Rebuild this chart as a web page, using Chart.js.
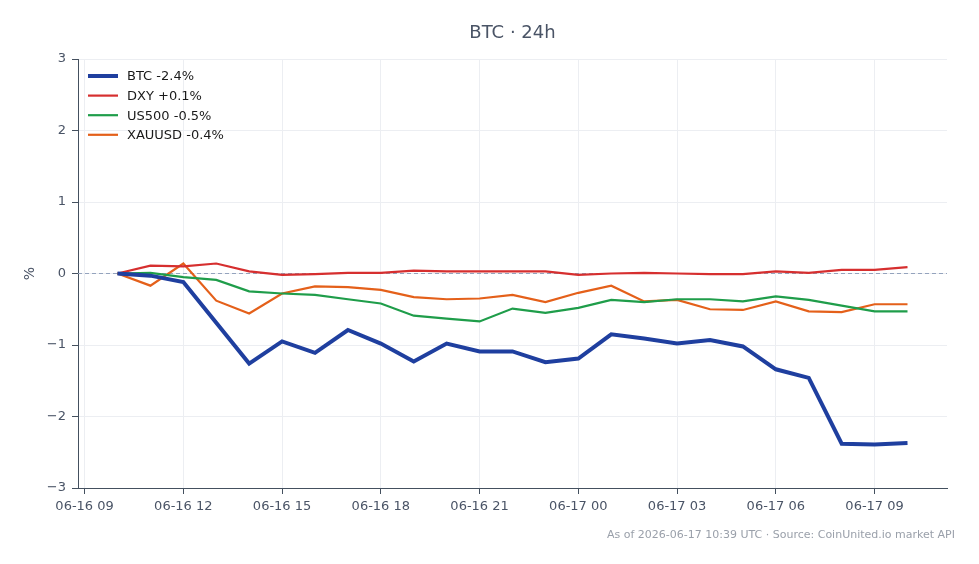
<!DOCTYPE html>
<html>
<head>
<meta charset="utf-8">
<script src="https://cdn.jsdelivr.net/npm/chart.js@4.4.1/dist/chart.umd.min.js"></script>
<style>
html,body{margin:0;padding:0;background:#fff;}
#wrap{width:979px;height:564px;position:relative;}
</style>
</head>
<body>
<div id="wrap"><canvas id="c" width="979" height="564"></canvas></div>
<script>
// Hours since 06-16 00:00 UTC
const hours = [10,11,12,13,14,15,16,17,18,19,20,21,22,23,24,25,26,27,28,29,30,31,32,33,34];
const btc    = [0,-0.03,-0.12,-0.69,-1.26,-0.95,-1.11,-0.79,-0.98,-1.23,-0.98,-1.09,-1.09,-1.24,-1.19,-0.85,-0.91,-0.98,-0.93,-1.02,-1.34,-1.46,-2.38,-2.39,-2.37];
const dxy    = [0,0.11,0.10,0.14,0.03,-0.02,-0.01,0.01,0.01,0.04,0.03,0.03,0.03,0.03,-0.02,0.00,0.01,0.00,-0.01,-0.01,0.03,0.01,0.05,0.05,0.09];
const us500  = [0,0.01,-0.05,-0.09,-0.25,-0.28,-0.30,-0.36,-0.42,-0.59,-0.63,-0.67,-0.49,-0.55,-0.48,-0.37,-0.40,-0.36,-0.36,-0.39,-0.32,-0.37,-0.45,-0.53,-0.53];
const xauusd = [0,-0.17,0.14,-0.38,-0.56,-0.28,-0.18,-0.19,-0.23,-0.33,-0.36,-0.35,-0.30,-0.40,-0.27,-0.17,-0.39,-0.37,-0.50,-0.51,-0.39,-0.53,-0.54,-0.43,-0.43];
const seriesLabels = ['BTC -2.4%','DXY +0.1%','US500 -0.5%','XAUUSD -0.4%'];
const xTickValues = [9,12,15,18,21,24,27,30,33];
const xTickLabels = ['06-16 09','06-16 12','06-16 15','06-16 18','06-16 21','06-17 00','06-17 03','06-17 06','06-17 09'];
const yTickValues = [-3,-2,-1,0,1,2,3];
const yTickLabels = ['\u22123','\u22122','\u22121','0','1','2','3'];
const titleText = 'BTC \u00b7 24h';
const footerText = 'As of 2026-06-17 10:39 UTC \u00b7 Source: CoinUnited.io market API';

const colors = ['#1f3f9f','#d62f2f','#1f9d4a','#e4601a'];
const widths = [4,2.2,2.2,2.2];
const FONT = '"DejaVu Sans", sans-serif';
const series = [btc,dxy,us500,xauusd];

const datasets = series.map((s,i)=>({
  label: seriesLabels[i],
  data: s.map((v,j)=>({x:hours[j], y:v})),
  borderColor: colors[i],
  backgroundColor: colors[i],
  borderWidth: widths[i],
  pointRadius: 0,
  tension: 0,
  fill: false
}));

const decor = {
  id:'decor',
  beforeDatasetsDraw(chart){
    const {ctx, chartArea:a, scales:{y}} = chart;
    const py = y.getPixelForValue(0);
    ctx.save();
    ctx.strokeStyle = '#94a3bd';
    ctx.lineWidth = 1;
    ctx.setLineDash([4,3]);
    ctx.beginPath(); ctx.moveTo(a.left, py); ctx.lineTo(a.right, py); ctx.stroke();
    ctx.restore();
  },
  afterDraw(chart){
    const {ctx, chartArea:a} = chart;
    ctx.save();
    // title
    ctx.fillStyle = '#4a5466';
    ctx.font = '18px ' + FONT;
    ctx.textAlign = 'center'; ctx.textBaseline = 'middle';
    ctx.fillText(titleText, (a.left+a.right)/2, 33);
    // legend
    ctx.font = '13px ' + FONT;
    ctx.textAlign = 'left';
    chart.data.datasets.forEach((d,i)=>{
      const yy = a.top + 17 + i*19.6;
      ctx.strokeStyle = d.borderColor;
      ctx.lineWidth = d.borderWidth;
      ctx.beginPath(); ctx.moveTo(a.left+10, yy); ctx.lineTo(a.left+40, yy); ctx.stroke();
      ctx.fillStyle = '#1a1a1a';
      ctx.fillText(d.label, a.left+49, yy+1);
    });
    // footer
    ctx.font = '11px ' + FONT;
    ctx.fillStyle = '#9aa0aa';
    ctx.textAlign = 'right';
    ctx.fillText(footerText, 955, 535);
    ctx.restore();
  }
};

new Chart(document.getElementById('c'), {
  type:'line',
  data:{datasets},
  plugins:[decor],
  options:{
    responsive:false,
    animation:false,
    layout:{padding:{top:59,right:32,left:0,bottom:0}},
    plugins:{legend:{display:false}, title:{display:false}, tooltip:{enabled:false}},
    scales:{
      x:{
        type:'linear', min:8.8, max:35.2,
        afterBuildTicks(s){ s.ticks = xTickValues.map(v=>({value:v})); },
        afterFit(s){ s.height = 76; },
        ticks:{
          autoSkip:false, maxRotation:0, color:'#4a5466', padding:5,
          font:{family:FONT,size:13},
          callback(v){ const k = xTickValues.indexOf(v); return k>=0 ? xTickLabels[k] : ''; }
        },
        grid:{color:'#eceef2', tickColor:'#44505f', tickLength:6, drawTicks:true},
        border:{color:'#44505f', width:1}
      },
      y:{
        min:-3, max:3,
        afterBuildTicks(s){ s.ticks = yTickValues.map(v=>({value:v})); },
        afterFit(s){ s.width = 78; },
        ticks:{
          color:'#4a5466', padding:6,
          font:{family:FONT,size:13},
          callback(v){ const k = yTickValues.indexOf(v); return k>=0 ? yTickLabels[k] : ''; }
        },
        title:{display:true, text:'%', color:'#4a5466', font:{family:FONT,size:14}, padding:{top:22,bottom:0}},
        grid:{color:'#eceef2', tickColor:'#44505f', tickLength:6, drawTicks:true},
        border:{color:'#44505f', width:1}
      }
    }
  }
});
</script>
</body>
</html>
